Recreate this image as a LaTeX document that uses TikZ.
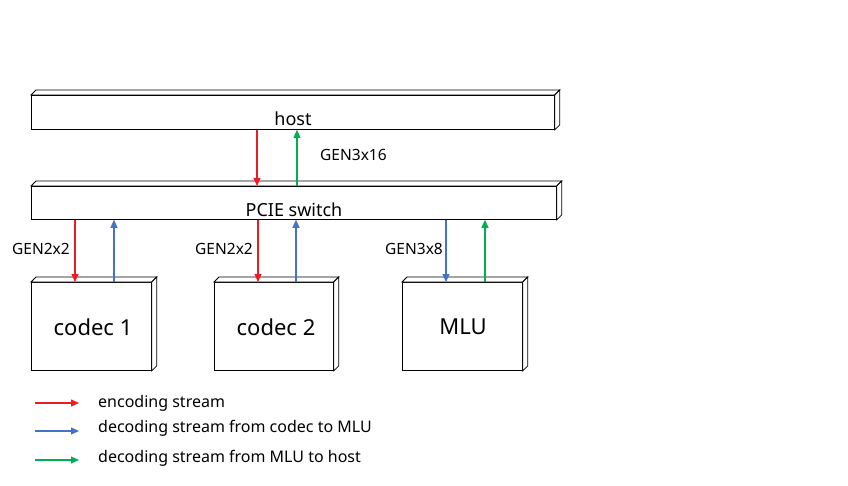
\documentclass[tikz,border=0pt]{standalone}
\usepackage{fontspec}
\setmainfont{Noto Sans}
\usetikzlibrary{arrows.meta}
\definecolor{cred}{RGB}{237,28,36}
\definecolor{cblue}{RGB}{68,114,196}
\definecolor{cgreen}{RGB}{0,176,80}
\tikzset{
  face/.style={draw=black, line width=0.8pt, rectangle, inner sep=0pt, anchor=north west, fill=white},
  flow/.style={line width=1.2pt, -{Triangle[length=8pt,width=7pt]}},
  enc/.style={flow, draw=cred, color=cred},
  dec/.style={flow, draw=cblue, color=cblue},
  up/.style={flow, draw=cgreen, color=cgreen},
  lbl/.style={inner sep=0pt, font=\fontsize{15.5}{18}\selectfont},
  boxtxt/.style={inner sep=0pt, font=\fontsize{22}{26}\selectfont},
  bigtxt/.style={inner sep=0pt, font=\fontsize{18}{21}\selectfont},
  legtxt/.style={inner sep=0pt, anchor=west, font=\fontsize{16}{19}\selectfont},
}
\newcommand{\cubeside}[1]{%
  \draw[line width=0.8pt, fill=white] (#1.north west) -- ++(5,-5) -- ([shift={(5,-5)}]#1.north east) -- (#1.north east) -- cycle;
  \draw[line width=0.8pt, fill=white] (#1.north east) -- ++(5,-5) -- ([shift={(5,-5)}]#1.south east) -- (#1.south east) -- cycle;
}
\begin{document}
\begin{tikzpicture}[x=1pt, y=-1pt]
\useasboundingbox (0,0) rectangle (848,486);
% boxes
\node[face, minimum width=523pt, minimum height=34pt] (host) at (31,95) {};
\node[face, minimum width=525pt, minimum height=33pt] (sw) at (31,186) {};
\node[face, minimum width=120pt, minimum height=88pt] (c1) at (31,282) {};
\node[face, minimum width=119pt, minimum height=88pt] (c2) at (214,282) {};
\node[face, minimum width=120pt, minimum height=88pt] (mlu) at (402,282) {};
\cubeside{host}
\cubeside{sw}
\cubeside{c1}
\cubeside{c2}
\cubeside{mlu}
% texts
\node[bigtxt] (hostlbl) at (293,119) {host};
\node[bigtxt] (swlbl) at (294,210) {PCIE switch};
\node[boxtxt] (c1lbl) at (93,327) {codec 1};
\node[boxtxt] (c2lbl) at (276,327) {codec 2};
\node[boxtxt] (mlulbl) at (463,327) {MLU};
\node[lbl, anchor=west] (g316) at (320,155) {GEN3x16};
\node[lbl, anchor=west] (g22a) at (12,249) {GEN2x2};
\node[lbl, anchor=west] (g22b) at (195,249) {GEN2x2};
\node[lbl, anchor=west] (g38) at (385,249) {GEN3x8};
% connectors
\draw[enc] (host.south -| 257,0) -- (sw.north -| 257,0);
\draw[up] (sw.north -| 297,0) -- (host.south -| 297,0);
\draw[enc] (sw.south -| 75,0) -- (c1.north -| 75,0);
\draw[dec] (c1.north -| 114,0) -- (sw.south -| 114,0);
\draw[enc] (sw.south -| 258,0) -- (c2.north -| 258,0);
\draw[dec] (c2.north -| 296,0) -- (sw.south -| 296,0);
\draw[dec] (sw.south -| 446,0) -- (mlu.north -| 446,0);
\draw[up] (mlu.north -| 485,0) -- (sw.south -| 485,0);
% legend
\coordinate (l1a) at (35,403); \coordinate (l1b) at (79,403);
\coordinate (l2a) at (35,431); \coordinate (l2b) at (79,431);
\coordinate (l3a) at (35,460); \coordinate (l3b) at (79,460);
\draw[enc] (l1a) -- (l1b);
\draw[dec] (l2a) -- (l2b);
\draw[up] (l3a) -- (l3b);
\node[legtxt] (t1) at (98,403) {encoding stream};
\node[legtxt] (t2) at (98,428) {decoding stream from codec to MLU};
\node[legtxt] (t3) at (98,458) {decoding stream from MLU to host};
\end{tikzpicture}
\end{document}
